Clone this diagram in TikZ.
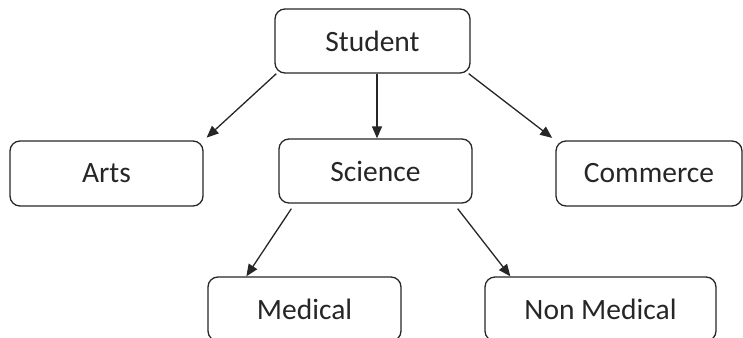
\documentclass[tikz,border=0pt]{standalone}
\usepackage{fontspec}
\setmainfont{Carlito}
\usetikzlibrary{arrows.meta,calc}
\definecolor{ink}{HTML}{262626}
\begin{document}
\begin{tikzpicture}[x=1pt,y=-1pt,
  box/.style={draw=ink,line width=1.3pt,rounded corners=10pt,
    minimum height=64pt,inner sep=0pt,text=ink,
    font=\fontsize{29.5}{32}\selectfont},
  link/.style={draw=ink,line width=1.3pt,
    -{Triangle[length=12pt,width=10pt]}}]
  \useasboundingbox (0,0) rectangle (743,337);
  \clip (0,0) rectangle (743,337);

  % top level
  \node[box,minimum width=195pt] (stu) at (372.5,41) {Student};

  % second level
  \node[box,minimum width=193pt,minimum height=65pt] (arts) at (106.5,173.5) {Arts};
  \node[box,minimum width=193pt] (sci) at (375.5,171) {Science};
  \node[box,minimum width=186pt,minimum height=65pt] (com) at (649,173.5) {Commerce};

  % third level
  \node[box,minimum width=193pt] (med) at (304.5,309) {Medical};
  \node[box,minimum width=231pt] (nmed) at (600.5,309) {Non Medical};

  % connectors
  \draw[link,shorten >=4pt] ($(stu.south west)+(2,0)$) -- (arts.north east);
  \draw[link] ($(stu.south)+(4.5,0)$) -- ($(sci.north)+(1.5,0)$);
  \draw[link,shorten >=4pt] ($(stu.south east)+(-2,0)$) -- (com.north west);
  \draw[link] ($(sci.south west)+(13,5)$) -- ($(med.north west)+(39,0)$);
  \draw[link] ($(sci.south east)+(-15,5)$) -- ($(nmed.north west)+(26,0)$);
\end{tikzpicture}
\end{document}
